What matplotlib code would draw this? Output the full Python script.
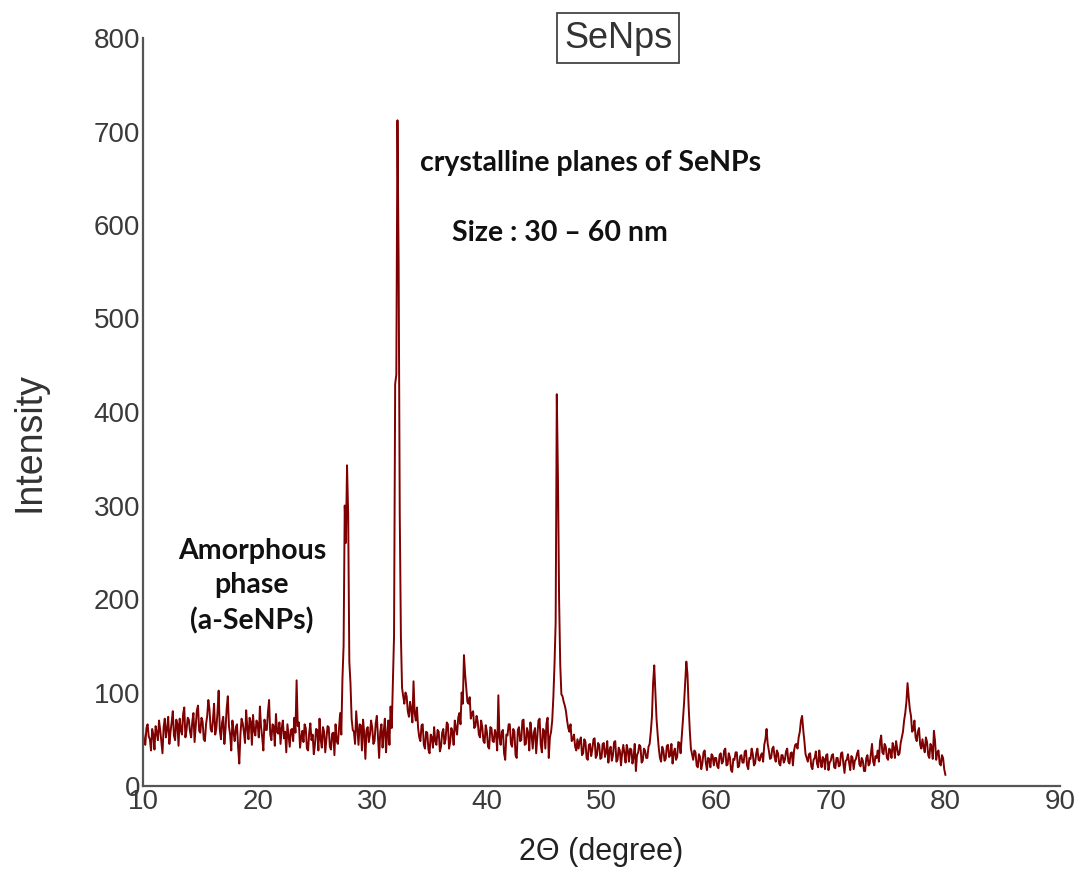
import numpy as np
import matplotlib
matplotlib.use("Agg")
import matplotlib.pyplot as plt

# XRD pattern of SeNPs on a 0.1 degree grid (10 -> 80)
intensity = [
    58, 47, 44, 62, 66, 53, 50, 38, 61, 55,        # 10
    39, 64, 57, 49, 70, 60, 48, 35, 63, 72,        # 11
    52, 61, 74, 45, 58, 68, 80, 54, 49, 71,        # 12
    67, 43, 72, 60, 55, 77, 84, 52, 60, 73,        # 13
    71, 58, 52, 69, 78, 47, 64, 81, 86, 59,        # 14
    57, 73, 69, 50, 48, 66, 75, 92, 82, 61,        # 15
    58, 70, 88, 55, 62, 79, 102, 60, 50, 68,       # 16
    74, 45, 61, 83, 96, 64, 55, 38, 70, 57,        # 17
    48, 63, 66, 41, 24, 55, 72, 67, 58, 46,        # 18
    81, 62, 50, 73, 69, 44, 76, 59, 54, 70,        # 19
    67, 52, 85, 63, 52, 38, 71, 60, 60, 79,        # 20
    92, 55, 49, 66, 64, 43, 77, 58, 56, 68,        # 21
    45, 62, 70, 51, 58, 36, 66, 54, 42, 60,        # 22
    61, 48, 73, 57, 113, 64, 68, 41, 52, 59,       # 23
    47, 66, 62, 40, 38, 57, 67, 49, 55, 34,        # 24
    44, 61, 60, 38, 72, 50, 41, 63, 58, 36,        # 25
    50, 64, 63, 42, 39, 56, 57, 33, 66, 48,        # 26
    45, 62, 78, 55, 115, 150, 300, 260, 343, 290,  # 27
    133, 110, 72, 60, 58, 45, 80, 62, 44, 66,      # 28
    65, 38, 71, 56, 29, 60, 63, 47, 55, 70,        # 29
    62, 45, 48, 67, 75, 52, 30, 58, 66, 41,        # 30
    58, 72, 36, 55, 70, 44, 85, 62, 110, 160,      # 31
    430, 440, 712, 560, 290, 160, 105, 96, 88, 100,  # 32
    96, 80, 74, 90, 82, 68, 112, 78, 70, 84,       # 33
    62, 52, 48, 65, 66, 44, 40, 58, 57, 39,        # 34
    35, 55, 52, 41, 63, 48, 44, 60, 58, 37,        # 35
    42, 57, 61, 45, 50, 68, 66, 40, 47, 62,        # 36
    58, 44, 70, 62, 55, 73, 78, 66, 100, 88,       # 37
    140, 120, 105, 90, 88, 95, 72, 78, 80, 62,     # 38
    64, 75, 69, 55, 52, 70, 63, 48, 46, 65,        # 39
    58, 42, 40, 63, 62, 48, 47, 60, 55, 38,        # 40
    97, 52, 44, 58, 60, 35, 28, 55, 54, 66,        # 41
    66, 45, 42, 61, 58, 33, 30, 60, 63, 48,        # 42
    49, 70, 71, 44, 45, 62, 57, 38, 68, 55,        # 43
    40, 57, 62, 35, 53, 70, 72, 44, 36, 61,        # 44
    59, 40, 67, 73, 30, 52, 58, 70, 95, 130,       # 45
    175, 419, 330, 200, 130, 98, 96, 90, 86, 80,   # 46
    70, 62, 58, 66, 48, 50, 55, 42, 38, 50,        # 47
    40, 48, 52, 33, 35, 50, 47, 30, 28, 44,        # 48
    45, 32, 39, 50, 51, 30, 33, 46, 44, 29,        # 49
    30, 45, 46, 31, 36, 48, 25, 38, 42, 27,        # 50
    33, 47, 48, 26, 28, 41, 38, 22, 35, 44,        # 51
    35, 25, 44, 38, 26, 40, 39, 24, 31, 45,        # 52
    16, 33, 36, 44, 42, 25, 27, 40, 38, 30,        # 53
    30, 42, 45, 58, 74, 110, 129, 100, 72, 55,     # 54
    40, 30, 26, 42, 38, 27, 29, 43, 44, 31,        # 55
    33, 45, 24, 36, 40, 28, 31, 47, 46, 35,        # 56
    52, 70, 88, 110, 133, 120, 86, 60, 40, 34,     # 57
    28, 38, 36, 22, 20, 34, 31, 18, 24, 36,        # 58
    38, 25, 17, 30, 29, 20, 34, 32, 22, 30,        # 59
    30, 21, 19, 33, 35, 24, 26, 38, 40, 22,        # 60
    23, 35, 31, 17, 15, 29, 28, 36, 36, 20,        # 61
    21, 32, 33, 25, 25, 37, 38, 22, 18, 30,        # 62
    29, 40, 34, 22, 24, 35, 40, 28, 27, 33,        # 63
    35, 26, 44, 50, 61, 45, 38, 29, 30, 40,        # 64
    42, 31, 26, 38, 35, 24, 22, 33, 33, 25,        # 65
    28, 37, 40, 26, 24, 35, 36, 22, 38, 44,        # 66
    45, 40, 52, 58, 70, 75, 60, 48, 34, 30,        # 67
    26, 34, 35, 21, 18, 28, 30, 37, 24, 20,        # 68
    38, 27, 20, 31, 29, 18, 33, 34, 17, 25,        # 69
    27, 33, 34, 20, 19, 30, 30, 21, 22, 35,        # 70
    36, 24, 14, 27, 28, 34, 25, 17, 32, 30,        # 71
    18, 27, 29, 35, 38, 23, 21, 30, 27, 16,        # 72
    16, 30, 33, 22, 24, 35, 45, 26, 22, 32,        # 73
    30, 38, 26, 48, 54, 36, 34, 45, 42, 30,        # 74
    28, 40, 38, 30, 46, 41, 30, 48, 40, 33,        # 75
    35, 46, 52, 58, 70, 78, 90, 110, 95, 82,       # 76
    75, 58, 60, 70, 52, 48, 58, 62, 44, 40,        # 77
    50, 42, 36, 52, 47, 33, 30, 45, 42, 29,        # 78
    59, 48, 28, 36, 38, 24, 22, 33, 30, 18,        # 79
    12,                                            # 80
]
two_theta = np.linspace(10, 80, len(intensity))

x_ticks = [10, 20, 30, 40, 50, 60, 70, 80, 90]
y_ticks = [0, 100, 200, 300, 400, 500, 600, 700, 800]

fig = plt.figure(figsize=(10.83, 8.72), dpi=100)
ax = fig.add_axes([143/1083, 86/872, 917/1083, 748/872])

ax.plot(two_theta, intensity, color='#7f0000', lw=1.4)

ax.set_xlim(10, 90)
ax.set_ylim(0, 800)
ax.set_xticks(x_ticks)
ax.set_yticks(y_ticks)
ax.tick_params(length=0, labelsize=20, labelcolor='#3a3a3a', pad=2,
               labelfontfamily='Liberation Sans')
for s in ['top', 'right']:
    ax.spines[s].set_visible(False)
for s in ['left', 'bottom']:
    ax.spines[s].set_color('#555555')
    ax.spines[s].set_linewidth(1.6)

ax.set_ylabel('Intensity', fontsize=27, family='Liberation Sans', color='#333333')
ax.yaxis.set_label_coords(-0.104, 0.46)
ax.set_xlabel('2\u0398 (degree)', fontsize=22, family='Liberation Sans', color='#222222')
ax.xaxis.set_label_coords(0.5, -0.068)

ax.text(0.518, 1.0, 'SeNps', transform=ax.transAxes, ha='center', va='center',
        fontsize=26, family='Liberation Sans', color='#333333', clip_on=False,
        bbox=dict(boxstyle='square,pad=0.2', fc='white', ec='#444444', lw=1.3))

bold = dict(family='Lato', fontweight='bold', fontsize=20.5, color='#111111')
ax.text(34.2, 666, 'crystalline planes of SeNPs', ha='left', va='center', **bold)
ax.text(37.0, 591, 'Size : 30 \u2013 60 nm', ha='left', va='center', **bold)
ax.text(19.5, 214, 'Amorphous\nphase\n(a-SeNPs)', ha='center', va='center',
        multialignment='center', linespacing=1.4, **bold)

fig.savefig('out.png', dpi=100)
